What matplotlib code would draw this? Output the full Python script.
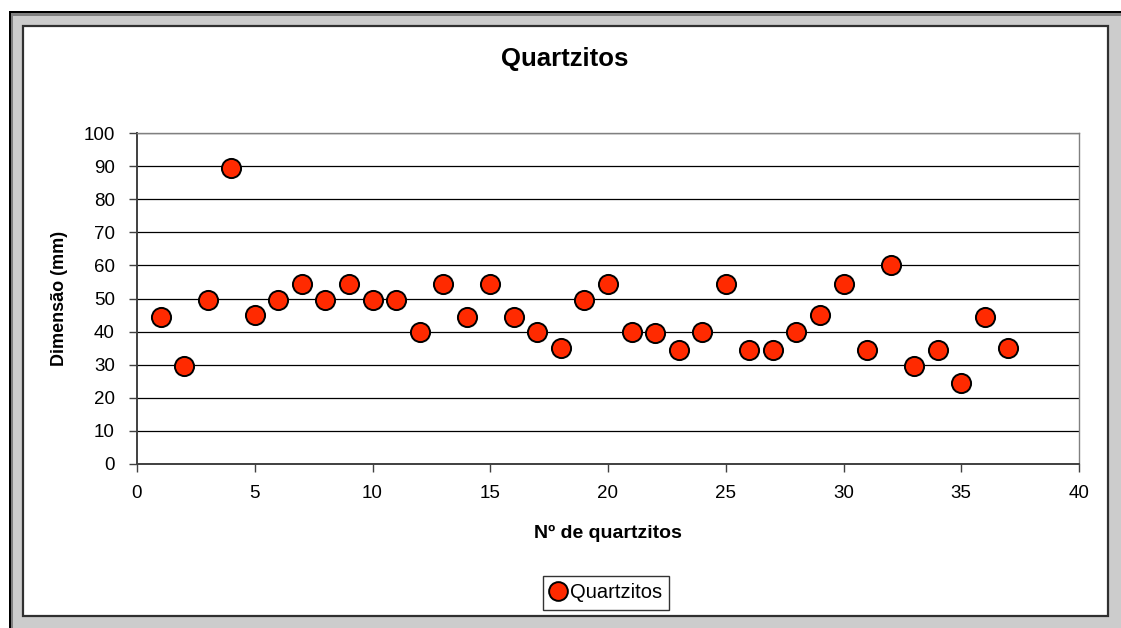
import matplotlib
matplotlib.use("Agg")
import matplotlib.pyplot as plt
from matplotlib.patches import Rectangle
from matplotlib.lines import Line2D

plt.rcParams["font.family"] = ["Liberation Sans", "DejaVu Sans"]

# data
n_quartzito = list(range(1, 38))
dimensao = [44.5, 29.5, 49.5, 89.5, 45, 49.5, 54.5, 49.5, 54.5, 49.5,
            49.5, 40, 54.5, 44.5, 54.5, 44.5, 40, 35, 49.5, 54.5,
            40, 39.5, 34.5, 40, 54.5, 34.5, 34.5, 40, 45, 54.5,
            34.5, 60, 29.5, 34.5, 24.5, 44.5, 35]
y_ticks = list(range(0, 101, 10))
x_ticks = list(range(0, 41, 5))

W, H = 1121, 628


def box(x0, y0, x1, y1):
    """pixel box (top-left origin) -> figure fractions"""
    return (x0 / W, 1 - y1 / H), (x1 - x0) / W, (y1 - y0) / H


fig = plt.figure(figsize=(W / 100, H / 100), dpi=100, facecolor="white")

# Excel-style frame: dark shadow top/left, light grey band, white chart area
for (x0, y0, x1, y1, c) in [(9, 11, W, H, "#000000"),
                            (11, 13, W, H, "#808080"),
                            (13, 16, W, H, "#cccccc")]:
    xy, w, h = box(x0, y0, x1, y1)
    fig.patches.append(Rectangle(xy, w, h, transform=fig.transFigure,
                                 facecolor=c, edgecolor="none", zorder=0))
xy, w, h = box(23, 26, 1108, 616)
fig.patches.append(Rectangle(xy, w, h, transform=fig.transFigure,
                             facecolor="white", edgecolor="#303030",
                             linewidth=1.6, zorder=1))

ax = fig.add_axes([137 / W, 1 - 464 / H, (1079 - 137) / W, (464 - 133) / H])
ax.set_facecolor("white")
ax.set_zorder(2)

ax.scatter(n_quartzito, dimensao, s=190, color="#ff2a00", edgecolor="black",
           linewidth=1.4, zorder=3, clip_on=False)

ax.set_xlim(0, 40)
ax.set_ylim(0, 100)
ax.set_xticks(x_ticks)
ax.set_yticks(y_ticks)
ax.yaxis.grid(True, color="#000000", linewidth=0.9)
ax.set_axisbelow(True)
ax.tick_params(axis="both", direction="out", length=6, width=1,
               color="#404040", labelsize=13.5, pad=4)
ax.tick_params(axis="y", pad=10)
ax.tick_params(axis="x", pad=9)
for side in ["left", "bottom"]:
    ax.spines[side].set_color("#404040")
    ax.spines[side].set_linewidth(1.4)
for side in ["top", "right"]:
    ax.spines[side].set_color("#808080")
    ax.spines[side].set_linewidth(1.0)

# title is centred on the whole chart area, not on the plot area
ax.set_title("Quartzitos", fontsize=18.5, fontweight="bold", pad=48,
             x=(565 - 137) / (1079 - 137))
ax.set_xlabel("Nº de quartzitos", fontsize=14, fontweight="bold", labelpad=17)
ax.set_ylabel("Dimensão (mm)", fontsize=13, fontweight="bold", labelpad=11)

handle = Line2D([], [], marker="o", linestyle="none", markersize=13.5,
                markerfacecolor="#ff2a00", markeredgecolor="black",
                markeredgewidth=1.4)
leg = fig.legend([handle], ["Quartzitos"], loc="center",
                 bbox_to_anchor=(606 / W, 1 - 593 / H), fontsize=14.5,
                 frameon=True, fancybox=False, edgecolor="black",
                 handlelength=0.8, handletextpad=0.2, borderpad=0.35,
                 borderaxespad=0)
leg.get_frame().set_linewidth(1.0)

fig.savefig("out.png", dpi=100, facecolor=fig.get_facecolor())
